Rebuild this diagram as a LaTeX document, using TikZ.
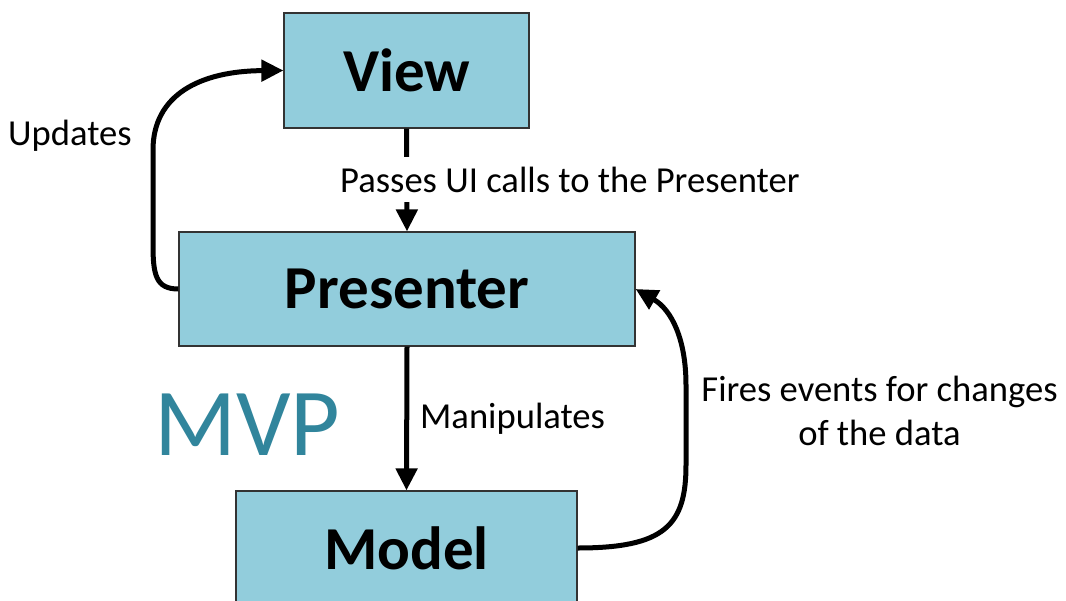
\documentclass[tikz,border=0pt]{standalone}
\usepackage{fontspec}
\setmainfont{Carlito}
\usetikzlibrary{arrows.meta}
\definecolor{boxfill}{HTML}{92CDDC}
\definecolor{mvpteal}{HTML}{31859C}
\tikzset{
  layer/.style={draw=black!80, line width=1.2pt, fill=boxfill,
    font=\fontsize{61}{72}\selectfont\bfseries, inner sep=0pt},
  flow/.style={line width=5pt, -{Triangle[length=22pt,width=21pt]}},
  note/.style={font=\fontsize{36.6}{43.5}\selectfont, inner sep=0pt},
}
\begin{document}
\begin{tikzpicture}[x=1pt, y=-1pt]
  \useasboundingbox (0,0) rectangle (1066,600);

  % the three layers
  \node[layer, minimum width=245pt, minimum height=115pt] (view) at (406.5,70.5) {View};
  \node[layer, minimum width=456pt, minimum height=114pt] (presenter) at (407,289) {Presenter};
  \node[layer, minimum width=341pt, minimum height=114pt] (model) at (406.5,548) {Model};

  % view -> presenter, broken by its label
  \draw[flow] (view.south) -- (presenter.north);
  \node[note, fill=white, inner ysep=10pt, anchor=base west] (passlbl) at (340,192)
    {Passes UI calls to the Presenter};

  % presenter -> model
  \draw[flow] (presenter.south) -- (model.north);
  \node[note, anchor=base west] (maniplbl) at (420,428) {Manipulates};

  % presenter -> view, looping round the left
  \draw[flow] (presenter.west) .. controls (156,289) and (153,275) .. (153,245)
    -- (153,150) .. controls (153,95) and (200,71) .. (view.west);
  \node[note, anchor=base west] (updlbl) at (8,145) {Updates};

  % model -> presenter, looping round the right
  \draw[flow] (model.east) .. controls (665,548) and (686,525) .. (686,465)
    -- (686,385) .. controls (686,340) and (672,310) .. (presenter.east);
  \node[note, align=center, anchor=base] (firelbl) at (879.5,445)
    {Fires events for changes\\of the data};

  % title
  \node[inner sep=0pt, anchor=base west, text=mvpteal,
        font=\fontsize{96}{110}\selectfont] (title) at (154,455) {MVP};
\end{tikzpicture}
\end{document}
